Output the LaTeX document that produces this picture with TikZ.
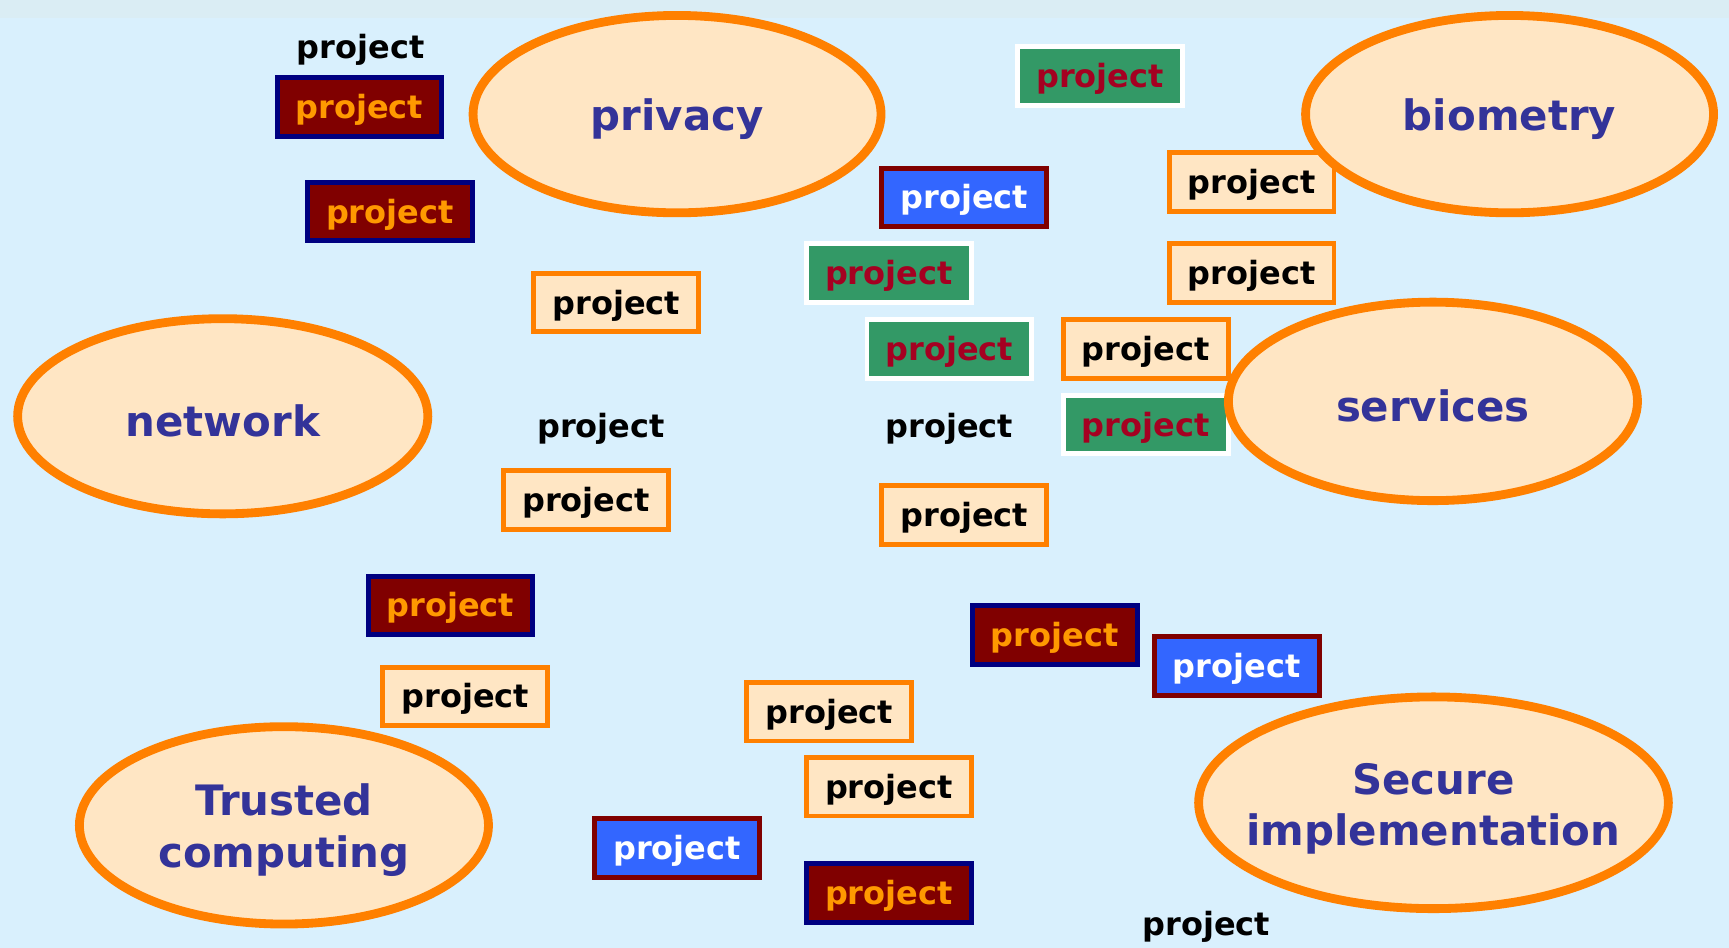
\documentclass[tikz,border=0pt]{standalone}
\usepackage{fontspec}
\setmainfont{DejaVu Sans}
\usetikzlibrary{shapes.geometric}
\definecolor{bg}{HTML}{D9F0FD}
\definecolor{band}{HTML}{DAEDF4}
\definecolor{ellfill}{HTML}{FFE6C4}
\definecolor{orng}{HTML}{FF8000}
\definecolor{elltext}{HTML}{333399}
\definecolor{maroon}{HTML}{800000}
\definecolor{navy}{HTML}{000080}
\definecolor{gold}{HTML}{FF9900}
\definecolor{blu}{HTML}{3366FF}
\definecolor{grn}{HTML}{339966}
\definecolor{crim}{HTML}{A50021}
\begin{document}
\begin{tikzpicture}[x=1pt,y=-1pt,
  ell/.style={ellipse,inner sep=0pt,fill=ellfill,draw=orng,line width=8pt},
  elab/.style={text=elltext,align=center,yshift=-4.5pt,inner sep=0pt,
    font=\fontsize{38}{47}\selectfont\bfseries},
  pbox/.style={rectangle,inner sep=0pt,minimum width=149.5pt,minimum height=53pt,
    line width=4.5pt,text height=27.8pt,text depth=7pt,
    font=\fontsize{29}{35}\selectfont\bfseries},
  cream/.style={pbox,fill=ellfill,draw=orng,text=black},
  mar/.style={pbox,fill=maroon,draw=navy,text=gold},
  blue/.style={pbox,fill=blu,draw=maroon,text=white},
  green/.style={pbox,fill=grn,draw=white,text=crim},
  plain/.style={inner sep=0pt,text=black,text height=27.8pt,text depth=7pt,
    font=\fontsize{29}{35}\selectfont\bfseries}]
\useasboundingbox (0,0) rectangle (1568,859.7);
\fill[bg] (0,0) rectangle (1568,859.7);
\fill[band] (0,0) rectangle (1568,16.5);
% boxes
\node[plain] (t1) at (327,43) {project};
\node[mar] (b2) at (326,97) {project};
\node[mar] (b3) at (353.5,192) {project};
\node[cream] (b4) at (559,274.5) {project};
\node[plain] (t5) at (545,386) {project};
\node[cream] (b6) at (531.5,453.5) {project};
\node[mar] (b7) at (408.5,549) {project};
\node[cream] (b8) at (422,631.5) {project};
\node[green] (b9) at (997.5,69) {project};
\node[blue] (b10) at (874.5,179) {project};
\node[green] (b11) at (806,247.5) {project};
\node[green] (b12) at (861,316.5) {project};
\node[plain] (t13) at (861,386) {project};
\node[cream] (b14) at (874.5,467) {project};
\node[cream] (b15) at (1135,165) {project};
\node[cream] (b16) at (1135,247.5) {project};
\node[cream] (b17) at (1039,316.5) {project};
\node[green] (b18) at (1039,385) {project};
\node[mar] (b19) at (956.5,576) {project};
\node[blue] (b20) at (1121.5,604) {project};
\node[cream] (b21) at (752,645.5) {project};
\node[cream] (b22) at (806,713.5) {project};
\node[blue] (b23) at (614,769) {project};
\node[mar] (b24) at (806,810) {project};
\node[plain] (t25) at (1094,838) {project};
% ellipses
\node[ell,minimum width=370pt,minimum height=179pt,
  label={[elab]center:privacy}] (privacy) at (614,103.5) {};
\node[ell,minimum width=370pt,minimum height=179pt,
  label={[elab]center:biometry}] (biometry) at (1369,103.5) {};
\node[ell,minimum width=372pt,minimum height=177pt,
  label={[elab]center:network}] (network) at (202,377.5) {};
\node[ell,minimum width=371pt,minimum height=180pt,
  label={[elab]center:services}] (services) at (1299.5,364) {};
\node[ell,minimum width=371pt,minimum height=179pt,
  label={[elab]center:Trusted\\computing}] (trusted) at (257.5,748.5) {};
\node[ell,minimum width=426pt,minimum height=192pt,
  label={[elab,yshift=-1pt]center:Secure\\implementation}] (secure) at (1300,728) {};
\end{tikzpicture}
\end{document}
